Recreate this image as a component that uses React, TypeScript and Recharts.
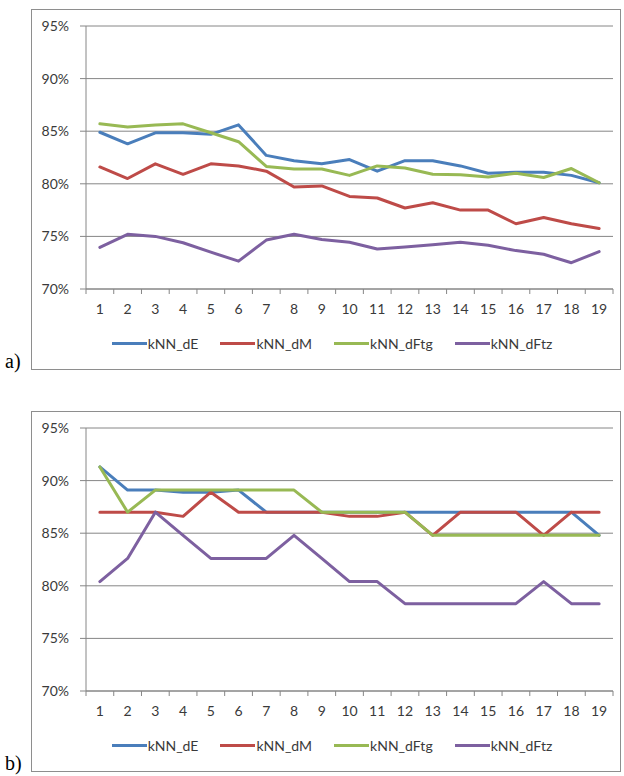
import React from "react";
import { LineChart, Line, XAxis, YAxis, CartesianGrid, Legend } from "recharts";

// k values on the horizontal axis
const kValues = [1, 2, 3, 4, 5, 6, 7, 8, 9, 10, 11, 12, 13, 14, 15, 16, 17, 18, 19];

// Panel a) accuracy (%)
const dE_a = [84.9, 83.8, 84.85, 84.85, 84.7, 85.6, 82.7, 82.2, 81.9, 82.3, 81.2, 82.2, 82.2, 81.7, 81.0, 81.1, 81.1, 80.8, 80.1];
const dM_a = [81.6, 80.5, 81.9, 80.9, 81.9, 81.7, 81.2, 79.7, 79.8, 78.8, 78.65, 77.7, 78.2, 77.5, 77.5, 76.2, 76.8, 76.2, 75.75];
const dFtg_a = [85.7, 85.4, 85.6, 85.7, 84.85, 84.0, 81.65, 81.4, 81.4, 80.8, 81.7, 81.5, 80.9, 80.85, 80.65, 81.0, 80.6, 81.45, 80.1];
const dFtz_a = [73.95, 75.2, 75.0, 74.4, 73.5, 72.65, 74.65, 75.2, 74.7, 74.45, 73.8, 74.0, 74.2, 74.45, 74.15, 73.65, 73.3, 72.5, 73.55];

// Panel b) accuracy (%)
const dE_b = [91.3, 89.1, 89.1, 88.9, 88.9, 89.1, 87.0, 87.0, 87.0, 87.0, 87.0, 87.0, 87.0, 87.0, 87.0, 87.0, 87.0, 87.0, 84.8];
const dM_b = [87.0, 87.0, 87.0, 86.6, 88.9, 87.0, 87.0, 87.0, 87.0, 86.6, 86.6, 87.0, 84.8, 87.0, 87.0, 87.0, 84.8, 87.0, 87.0];
const dFtg_b = [91.3, 87.0, 89.1, 89.1, 89.1, 89.1, 89.1, 89.1, 87.0, 87.0, 87.0, 87.0, 84.8, 84.8, 84.8, 84.8, 84.8, 84.8, 84.8];
const dFtz_b = [80.4, 82.6, 87.0, 84.8, 82.6, 82.6, 82.6, 84.8, 82.6, 80.4, 80.4, 78.3, 78.3, 78.3, 78.3, 78.3, 80.4, 78.3, 78.3];

const yTicks = [70, 75, 80, 85, 90, 95];

const seriesNames = ["kNN_dE", "kNN_dM", "kNN_dFtg", "kNN_dFtz"];
const seriesColors = ["#4A7EBB", "#BE4B48", "#98B954", "#7D60A0"];

const FONT = "Lato, 'DejaVu Sans', sans-serif";
const TEXT = "#3a3a3a";
const AXIS = "#868686";

// tick positions: category centres carry labels, category edges carry tick marks
const edgeTicks = [...kValues.map((k) => k - 0.5), kValues[kValues.length - 1] + 0.5];
const xTicks = [...edgeTicks, ...kValues].sort((a, b) => a - b);

const buildRows = (cols: number[][]) =>
  kValues.map((k, i) => {
    const row: Record<string, number> = { k };
    seriesNames.forEach((name, s) => {
      row[name] = cols[s][i];
    });
    return row;
  });

const CategoryTick = (props: any) => {
  const { x, y, payload } = props;
  const v = payload.value as number;
  if (Number.isInteger(v)) {
    return (
      <text x={x} y={y + 25} textAnchor="middle" fill={TEXT} fontFamily={FONT} fontSize={14}>
        {v}
      </text>
    );
  }
  return <line x1={x} y1={y} x2={x} y2={y + 5} stroke={AXIS} strokeWidth={1} />;
};

const LegendRow = () => (
  <div
    style={{
      width: "100%",
      height: 20,
      display: "flex",
      justifyContent: "center",
      alignItems: "center",
      paddingLeft: 13,
      boxSizing: "border-box",
      fontFamily: FONT,
      fontSize: 14,
      color: TEXT,
    }}
  >
    {seriesNames.map((name, i) => (
      <div
        key={name}
        style={{ display: "flex", alignItems: "center", marginRight: i < seriesNames.length - 1 ? 22 : 0 }}
      >
        <span style={{ display: "inline-block", width: 35, height: 3, background: seriesColors[i] }} />
        <span style={{ marginLeft: 1 }}>{name}</span>
      </div>
    ))}
  </div>
);

const CHART_W = 589;
const CHART_H = 360;

const Panel = ({ rows, top, tag }: { rows: Record<string, number>[]; top: number; tag: string }) => (
  <>
    <div
      style={{
        position: "absolute",
        left: 31,
        top: top,
        width: 590,
        height: 361,
        border: "1px solid #8e8e8e",
        boxSizing: "border-box",
      }}
    />
    <div
      style={{
        position: "absolute",
        left: 5,
        top: top + 342,
        fontFamily: "'Liberation Serif', 'Times New Roman', serif",
        fontSize: 20,
        lineHeight: "20px",
        color: "#000",
      }}
    >
      {tag}
    </div>
    <div style={{ position: "absolute", left: 31, top: top }}>
      <LineChart width={CHART_W} height={CHART_H} data={rows} margin={{ top: 17, right: 7, bottom: 16, left: 0 }}>
        <CartesianGrid vertical={false} stroke={AXIS} strokeWidth={1} />
        <XAxis
          dataKey="k"
          type="number"
          domain={[0.5, 19.5]}
          ticks={xTicks}
          interval={0}
          height={44}
          tickSize={0}
          tickMargin={0}
          tickLine={false}
          axisLine={{ stroke: AXIS }}
          tick={<CategoryTick />}
        />
        <YAxis
          domain={[70, 95]}
          ticks={yTicks}
          interval={0}
          width={55}
          tickSize={6}
          tickMargin={11}
          axisLine={{ stroke: AXIS }}
          tickLine={{ stroke: AXIS }}
          tickFormatter={(v: number) => `${v}%`}
          tick={{ fill: TEXT, fontFamily: FONT, fontSize: 14 }}
        />
        <Legend
          verticalAlign="bottom"
          content={<LegendRow />}
          wrapperStyle={{ left: 0, bottom: 16, width: CHART_W, height: 20 }}
        />
        {seriesNames.map((name, i) => (
          <Line
            key={name}
            type="linear"
            dataKey={name}
            stroke={seriesColors[i]}
            strokeWidth={3}
            strokeLinejoin="round"
            strokeLinecap="round"
            dot={false}
            activeDot={false}
            isAnimationActive={false}
          />
        ))}
      </LineChart>
    </div>
  </>
);

export default function App() {
  const rowsA = buildRows([dE_a, dM_a, dFtg_a, dFtz_a]);
  const rowsB = buildRows([dE_b, dM_b, dFtg_b, dFtz_b]);
  return (
    <div style={{ position: "absolute", left: 0, top: 0, width: 624, height: 776, background: "#fff" }}>
      <Panel rows={rowsA} top={9} tag="a)" />
      <Panel rows={rowsB} top={411} tag="b)" />
    </div>
  );
}
